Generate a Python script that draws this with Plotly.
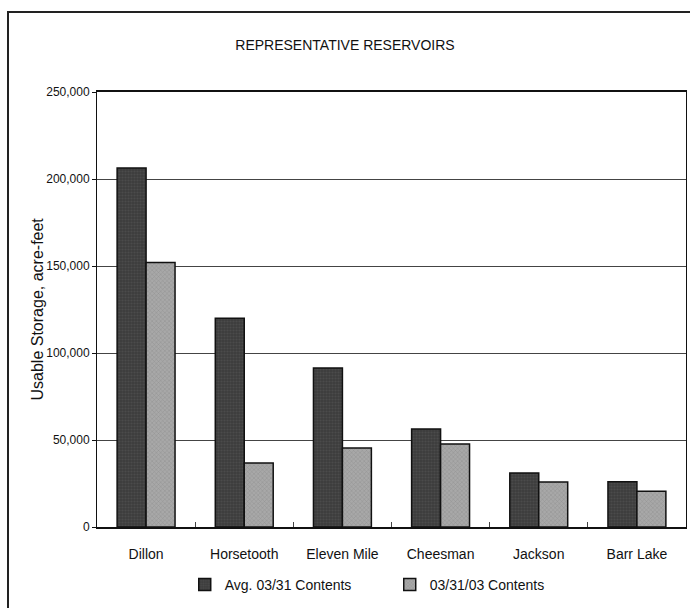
import plotly.graph_objects as go

# Reservoir storage, acre-feet
reservoirs = ["Dillon", "Horsetooth", "Eleven Mile", "Cheesman", "Jackson", "Barr Lake"]
avg_0331 = [206300, 120000, 91400, 56300, 31000, 26000]
contents_033103 = [152000, 36800, 45400, 47700, 25900, 20500]

y_ticks = [0, 50000, 100000, 150000, 200000, 250000]
y_tick_text = ["0", "50,000", "100,000", "150,000", "200,000", "250,000"]

FONT = "Liberation Sans, Arial, sans-serif"

fig = go.Figure()
fig.add_trace(go.Bar(
    x=reservoirs, y=avg_0331, name="Avg. 03/31 Contents",
    marker=dict(color="#3c3c3c", line=dict(color="#111111", width=1.5),
                pattern=dict(shape=".", fgcolor="#5a5a5a", bgcolor="#3c3c3c",
                             size=3, solidity=0.4)),
))
fig.add_trace(go.Bar(
    x=reservoirs, y=contents_033103, name="03/31/03 Contents",
    marker=dict(color="#9a9a9a", line=dict(color="#111111", width=1.5),
                pattern=dict(shape="x", fgcolor="#7a7a7a", bgcolor="#a8a8a8",
                             size=3, solidity=0.3)),
))

fig.update_layout(
    width=690, height=608,
    margin=dict(l=97, r=4, t=92, b=81),
    paper_bgcolor="white", plot_bgcolor="white",
    barmode="group", bargap=0.41, bargroupgap=0,
    font=dict(family=FONT, color="#111111", size=13),
    title=dict(text="REPRESENTATIVE RESERVOIRS", x=0.5, xanchor="center",
               xref="container", y=1 - 45 / 608, yref="container", yanchor="middle",
               font=dict(family=FONT, size=14, color="#111111")),
    showlegend=True,
    legend=dict(orientation="h", x=0.497, xanchor="center", y=-0.133, yanchor="middle",
                font=dict(family=FONT, size=14, color="#111111"),
                bgcolor="rgba(0,0,0,0)", entrywidth=160, itemwidth=30,
                traceorder="normal"),
    xaxis=dict(
        type="category", showline=True, mirror=True, linecolor="#111111", linewidth=1.5,
        ticks="inside", tickson="boundaries", ticklen=5, tickcolor="#444444",
        showgrid=False, ticklabelstandoff=13,
        tickfont=dict(family=FONT, size=14, color="#111111"),
    ),
    yaxis=dict(
        range=[0, 250000], tickvals=y_ticks, ticktext=y_tick_text,
        showline=True, mirror=True, linecolor="#111111", linewidth=1,
        ticks="outside", ticklen=4, tickcolor="#111111",
        showgrid=True, gridcolor="#444444", gridwidth=1, zeroline=False,
        tickfont=dict(family=FONT, size=12, color="#111111"),
    ),
    annotations=[dict(text="Usable Storage, acre-feet", textangle=-90,
                      xref="paper", yref="paper", x=(37 - 97) / 589, y=0.5,
                      xanchor="center", yanchor="middle", showarrow=False,
                      font=dict(family=FONT, size=16, color="#111111"))],
    shapes=[dict(type="rect", xref="paper", yref="paper",
                 x0=-0.1511, x1=1.02, y0=-0.25, y1=1.1839,
                 line=dict(color="#222222", width=2), layer="below")],
)

fig.write_html("out.html")
